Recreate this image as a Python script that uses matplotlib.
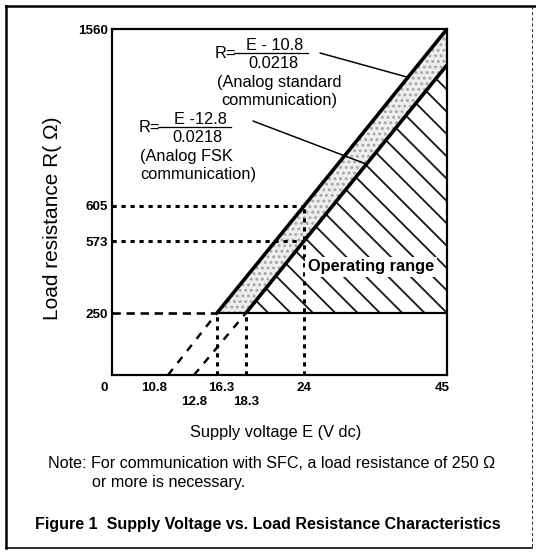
import numpy as np
import matplotlib
matplotlib.use("Agg")
import matplotlib.pyplot as plt
from matplotlib.lines import Line2D
from matplotlib.transforms import ScaledTranslation

# ---- data -------------------------------------------------------------
# Supply voltage E (V dc) / load resistance R (ohm) break points
std_E = [16.3, 24.0, 45.0]          # analog standard communication line
std_R = [250, 605, 1560]
fsk_E = [18.3, 24.0, 45.0]          # analog FSK communication line
fsk_R = [250, 573, 1477]
std_E0 = 10.8                       # R = 0 intercepts
fsk_E0 = 12.8
R_min = 250
E_max = 45.0
R_max = 1560

E_ticks_upper = [0, 10.8, 16.3, 24, 45]
E_ticks_lower = [12.8, 18.3]
E_tick_labels_upper = ["0", "10.8", "16.3", "24", "45"]
E_tick_labels_lower = ["12.8", "18.3"]
R_ticks = [250, 573, 605, 1560]
R_tick_labels = ["250", "573", "605", "1560"]

# ---- figure -----------------------------------------------------------
DPI = 134
W, H = 536, 552
plt.rcParams["font.family"] = ["Liberation Sans", "DejaVu Sans"]
plt.rcParams["hatch.linewidth"] = 1.0

fig = plt.figure(figsize=(W / DPI, H / DPI), dpi=DPI)


def px(x, y):
    """pixel position (from top-left) -> figure fraction"""
    return x / W, 1 - y / H


def pt(p):
    """pixels -> points"""
    return p * 72 / DPI


ax = fig.add_axes([112 / W, (H - 375) / H, 335 / W, 346 / H])

# The drawing is schematic: both axes use piecewise-linear scales
x_breaks = [0, 10.8, 12.8, 16.3, 18.3, 24, 45]
x_span = [0, 56, 82, 105, 134, 192, 335]
y_breaks = [0, 250, 573, 605, 1477, 1560]
y_span = [0, 62, 134, 169, 310, 346]

ax.set_xscale("function", functions=(lambda v: np.interp(v, x_breaks, x_span),
                                     lambda p: np.interp(p, x_span, x_breaks)))
ax.set_yscale("function", functions=(lambda v: np.interp(v, y_breaks, y_span),
                                     lambda p: np.interp(p, y_span, y_breaks)))
ax.set_xlim(0, E_max)
ax.set_ylim(0, R_max)

for s in ax.spines.values():
    s.set_linewidth(pt(2.2))

# stippled band between the two characteristic lines
band_E = list(fsk_E) + list(std_E[::-1])
band_R = list(fsk_R) + list(std_R[::-1])
ax.fill(band_E, band_R, facecolor="#eeeeee", edgecolor="#a6a6a6",
        hatch="....", linewidth=0, zorder=1)

# hatched operating range
op_E = list(fsk_E) + [E_max]
op_R = list(fsk_R) + [R_min]
ax.fill(op_E, op_R, facecolor="none", edgecolor="#1a1a1a",
        hatch="\\\\", linewidth=0, zorder=1)

dot = dict(color="black", lw=pt(3), ls=(0, (1.4, 1.6)), zorder=3,
           solid_capstyle="butt", dash_capstyle="butt")
dash = dict(color="black", lw=pt(2.6), ls=(0, (3.2, 2.2)), zorder=3,
            dash_capstyle="butt")

# reference levels
ax.plot([0, std_E[0]], [R_min, R_min], **dash)
ax.plot([std_E[0], E_max], [R_min, R_min], color="black", lw=pt(2.2), zorder=3)
ax.plot([0, std_E[1]], [std_R[1], std_R[1]], **dot)
ax.plot([0, fsk_E[1]], [fsk_R[1], fsk_R[1]], **dot)
ax.plot([std_E[1], std_E[1]], [0, std_R[1]], **dot)
ax.plot([std_E[0], std_E[0]], [0, R_min], **dot)
ax.plot([fsk_E[0], fsk_E[0]], [0, R_min], **dot)

# extrapolation down to R = 0
ax.plot([std_E0, std_E[0]], [0, R_min], color="black", lw=pt(2.4),
        ls=(0, (3.2, 3.2)), zorder=3)
ax.plot([fsk_E0, fsk_E[0]], [0, R_min], color="black", lw=pt(2.4),
        ls=(0, (3.2, 3.2)), zorder=3)

# characteristic lines
std_line, = ax.plot(std_E, std_R, color="black", lw=pt(3.6), zorder=4,
                    solid_capstyle="butt")
fsk_line, = ax.plot(fsk_E, fsk_R, color="black", lw=pt(3.6), zorder=4,
                    solid_capstyle="butt")

# ticks
tick_font = dict(fontsize=7.2, fontweight="bold")
ax.set_xticks(E_ticks_upper, E_tick_labels_upper, **tick_font)
ax.set_xticks(E_ticks_lower, E_tick_labels_lower, minor=True, **tick_font)
ax.set_yticks(R_ticks, R_tick_labels, **tick_font)
ax.tick_params(axis="both", which="both", length=0)
ax.tick_params(axis="x", which="major", pad=pt(7))
ax.tick_params(axis="x", which="minor", pad=pt(21))
ax.tick_params(axis="y", pad=pt(4))

x_label_shift = {"0": -8, "10.8": -14, "16.3": 4, "45": -5}
for lab in ax.get_xticklabels():
    dx = x_label_shift.get(lab.get_text(), 0)
    if dx:
        lab.set_transform(lab.get_transform() +
                          ScaledTranslation(dx / DPI, 0, fig.dpi_scale_trans))

# axis labels
ax.set_xlabel("Supply voltage E (V dc)", fontsize=8.8)
ax.xaxis.set_label_coords((276 - 112) / 335, (375 - 433) / 346)
ax.xaxis.label.set_va("center")
ax.set_ylabel("Load resistance R( Ω)", fontsize=11.2, va="center")
ax.yaxis.set_label_coords((52 - 112) / 335, (375 - 218) / 346)

# formula annotations
ann_fs = 8.8


def formula(x_r, y_bar, x0, x1, num, x_num, x_den, notes, x_note):
    fig.text(*px(x_r, y_bar + 1), "R=", fontsize=ann_fs, ha="left", va="center")
    fig.text(*px(x_num, y_bar - 8), num, fontsize=ann_fs, ha="center", va="center")
    fig.text(*px(x_den, y_bar + 10), "0.0218", fontsize=ann_fs, ha="center",
             va="center")
    fig.add_artist(Line2D([x0 / W, x1 / W], [1 - y_bar / H] * 2,
                          color="black", lw=pt(1.3)))
    for i, line in enumerate(notes):
        fig.text(*px(x_note[i], y_bar + 30 + 17 * i), line, fontsize=ann_fs,
                 ha="left", va="center")


formula(215, 53, 234, 308, "E - 10.8", 275, 273,
        ["(Analog standard", "communication)"], [217, 221])
formula(139, 127, 158, 231, "E -12.8", 200, 197,
        ["(Analog FSK", "communication)"], [140, 140])

ax.annotate("", xy=(0.83, 0.83), xycoords=std_line,
            xytext=px(320, 53), textcoords="figure fraction",
            arrowprops=dict(arrowstyle="-", lw=pt(1.5), shrinkA=0, shrinkB=0,
                            color="black"))
ax.annotate("", xy=(0.6, 0.6), xycoords=fsk_line,
            xytext=px(253, 121), textcoords="figure fraction",
            arrowprops=dict(arrowstyle="-", lw=pt(1.5), shrinkA=0, shrinkB=0,
                            color="black"))

fig.text(*px(371, 267), "Operating range", fontsize=8.8, fontweight="bold",
         ha="center", va="center",
         bbox=dict(facecolor="white", edgecolor="none", pad=1.5), zorder=5)

# note and caption
fig.text(*px(48, 463), "Note: For communication with SFC, a load resistance of 250 Ω",
         fontsize=8.7, ha="left", va="center")
fig.text(*px(92, 482), "or more is necessary.", fontsize=8.7, ha="left",
         va="center")
fig.text(*px(268, 525),
         "Figure 1  Supply Voltage vs. Load Resistance Characteristics",
         fontsize=8.6, fontweight="bold", ha="center", va="center")

# outer frame
frame = dict(color="black", transform=fig.transFigure)
fig.add_artist(Line2D([6 / W, 536 / W], [1 - 6 / H] * 2, lw=pt(2.5), **frame))
fig.add_artist(Line2D([6 / W, 6 / W], [1 - 6 / H, 1 - 548 / H], lw=pt(2.5), **frame))
fig.add_artist(Line2D([6 / W, 532 / W], [1 - 548 / H] * 2, lw=pt(1.6), **frame))
fig.add_artist(Line2D([532 / W, 532 / W], [1 - 6 / H, 1 - 548 / H], lw=pt(0.8),
                      ls=(0, (4, 3)), **frame))

fig.savefig("out.png", dpi=DPI)
